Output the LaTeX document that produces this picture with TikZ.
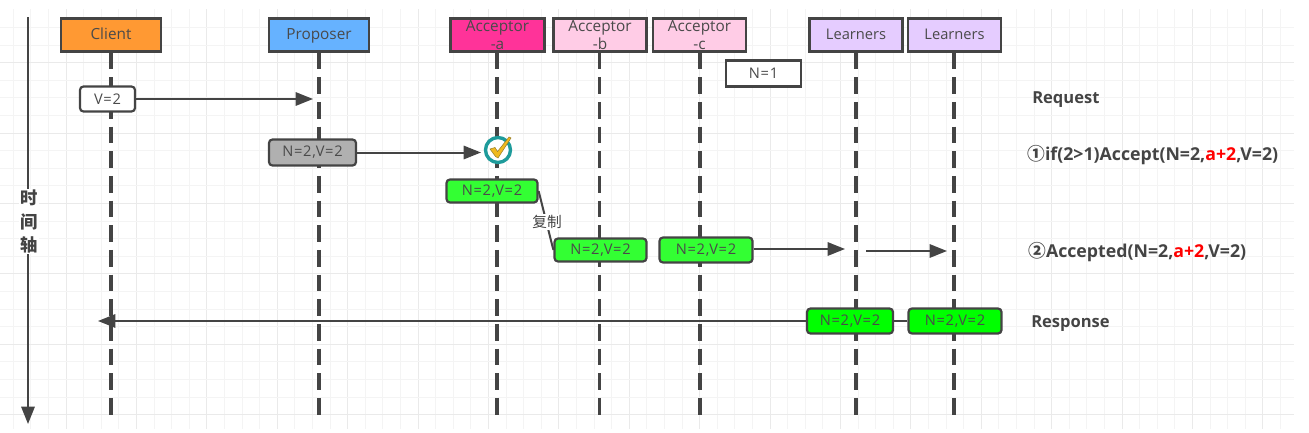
\documentclass[tikz,border=0pt]{standalone}
\usepackage{fontspec}
\setmainfont{Open Sans}
\newfontfamily\cjk{Noto Sans CJK SC}
\newfontfamily\msgfont[LetterSpace=5]{Open Sans}
\usetikzlibrary{arrows.meta}
\definecolor{ink}{HTML}{444444}
\definecolor{txt}{HTML}{4A4A4A}
\definecolor{gminor}{HTML}{F4F4F4}
\definecolor{gmajor}{HTML}{EAEAEA}
\definecolor{corange}{HTML}{FF9933}
\definecolor{cblue}{HTML}{66B2FF}
\definecolor{cmag}{HTML}{FF3399}
\definecolor{cpink}{HTML}{FFCCE6}
\definecolor{cviolet}{HTML}{E5CCFF}
\definecolor{cgray}{HTML}{B0B0B0}
\definecolor{cgreen}{HTML}{33FF33}
\definecolor{cgreenb}{HTML}{00FF00}
\definecolor{cteal}{HTML}{1E9B9B}
\definecolor{cgold}{HTML}{F0B91E}
\definecolor{cgoldd}{HTML}{967D28}
\pgfdeclarelayer{gridlayer}
\pgfdeclarelayer{linelayer}
\pgfsetlayers{gridlayer,linelayer,main}
\tikzset{
  px/.style={line width=#1*0.75pt},
  head/.style={draw=ink,px=2.2,minimum height=33*0.75pt,inner sep=0pt,align=center,text=txt,font=\fontsize{11.5}{14}\selectfont,anchor=center},
  single/.style={text height=8.6pt,text depth=2.6pt},
  msg/.style={draw=ink,px=2.2,rounded corners=2.6pt,inner sep=0pt,text=txt,font=\msgfont\fontsize{11}{12}\selectfont},
  lifeline/.style={draw=ink,px=3.6,dash pattern=on 12.5pt off 6pt},
  arrowline/.style={draw=ink,px=2,-{Triangle[length=13pt,width=10pt]}},
  plainline/.style={draw=ink,px=2},
  note/.style={anchor=base west,inner sep=0pt,text=ink,font=\fontsize{12.4}{14}\selectfont\bfseries},
  notewide/.style={note,font=\fontsize{13.3}{14}\selectfont\bfseries},
}
\newcommand{\Red}[1]{\textcolor{red}{#1}}
\begin{document}
\begin{tikzpicture}[x=0.75pt,y=-0.75pt]
\useasboundingbox (0,0) rectangle (1309,432);
\begin{pgfonlayer}{gridlayer}
  \foreach \k in {0,...,72}{
    \pgfmathsetmacro{\xx}{floor(13.3+17.6*\k)+0.5}
    \pgfmathtruncatemacro{\mm}{mod(\k+1,4)}
    \ifnum\mm=0 \draw[gmajor,px=1] (\xx,9) -- (\xx,429);
    \else \draw[gminor,px=1] (\xx,9) -- (\xx,429); \fi
  }
  \foreach \k in {0,...,22}{
    \pgfmathsetmacro{\yy}{floor(27.5+17.6*\k)+0.5}
    \pgfmathtruncatemacro{\mm}{mod(\k+2,4)}
    \ifnum\mm=0 \draw[gmajor,px=1] (0,\yy) -- (1294,\yy);
    \else \draw[gminor,px=1] (0,\yy) -- (1294,\yy); \fi
  }
\end{pgfonlayer}

% header boxes
\node[head,single,fill=corange,minimum width=100*0.75pt] (client) at (111,35) {Client};
\node[head,single,fill=cblue,minimum width=100*0.75pt] (proposer) at (319,35) {Proposer};
\node[head,fill=cmag,minimum width=94*0.75pt] (acca) at (497.5,35) {Acceptor\\[-1pt]-a};
\node[head,fill=cpink,minimum width=93*0.75pt] (accb) at (600,35) {Acceptor\\[-1pt]-b};
\node[head,fill=cpink,minimum width=93*0.75pt] (accc) at (699.5,35) {Acceptor\\[-1pt]-c};
\node[head,single,fill=cviolet,minimum width=93*0.75pt,font=\fontsize{11}{14}\selectfont] (learn1) at (856,35) {Learners};
\node[head,single,fill=cviolet,minimum width=93*0.75pt,font=\fontsize{11}{14}\selectfont] (learn2) at (954.5,35) {Learners};

% free ends of lifelines
\coordinate (endc) at (111,414.5);
\coordinate (endp) at (319,414.5);
\coordinate (enda) at (497,414.5);
\coordinate (endb) at (599.5,414.5);
\coordinate (endd) at (700,414.5);
\coordinate (endl) at (856,414.5);
\coordinate (endm) at (954,414.5);

% message boxes
\node[msg,fill=white,minimum width=55*0.75pt,minimum height=25*0.75pt] (v2) at (107.5,99) {V=2};
\node[msg,fill=cgray,minimum width=87*0.75pt,minimum height=26*0.75pt] (gray) at (312.5,152.5) {N=2,V=2};
\node[draw=ink,px=2.2,fill=white,text=txt,inner sep=0pt,font=\msgfont\fontsize{11}{12}\selectfont,minimum width=75*0.75pt,minimum height=26*0.75pt] (n1) at (763.5,73.5) {N=1};
\node[msg,fill=cgreen,minimum width=91*0.75pt,minimum height=23*0.75pt] (ga) at (492,191) {N=2,V=2};
\node[msg,fill=cgreen,minimum width=92*0.75pt,minimum height=23*0.75pt] (gb) at (600.5,250) {N=2,V=2};
\node[msg,fill=cgreen,minimum width=93*0.75pt,minimum height=25*0.75pt] (gc) at (706,250) {N=2,V=2};
\node[msg,fill=cgreenb,minimum width=86*0.75pt,minimum height=25*0.75pt] (gl1) at (850,321) {N=2,V=2};
\node[msg,fill=cgreenb,minimum width=93*0.75pt,minimum height=25*0.75pt] (gl2) at (955,321) {N=2,V=2};

% check icon
\node[circle,draw=cteal,px=3.4,fill=white,minimum size=25*0.75pt,inner sep=0pt] (chk) at (498,150) {};
\fill[cgold,draw=cgoldd,px=0.5]
  (490,149) -- (495,147.5) -- (497.5,151.5) -- (509,137) -- (511,138) -- (498,158) -- (495.5,156.5) -- cycle;

% free ends of arrows
\coordinate (pin) at (313,99);
\coordinate (ain) at (481,152.5);
\coordinate (l1in) at (845,249);
\coordinate (l1out) at (866,251);
\coordinate (l2in) at (947,251);
\coordinate (cin) at (98,321);
\coordinate (t0) at (28,17);
\coordinate (t1) at (28,424);

\begin{pgfonlayer}{linelayer}
  \draw[lifeline] (client.south) -- (endc);
  \draw[lifeline] (proposer.south) -- (endp);
  \draw[lifeline] (acca.south -| enda) -- (enda);
  \draw[lifeline] (accb.south -| endb) -- (endb);
  \draw[lifeline] (accc.south -| endd) -- (endd);
  \draw[lifeline] (learn1.south) -- (endl);
  \draw[lifeline] (learn2.south -| endm) -- (endm);
  \draw[arrowline] (v2.east) -- (pin);
  \draw[arrowline] (gray.east) -- (ain);
  \draw[arrowline] (gc.east |- l1in) -- (l1in);
  \draw[arrowline] (l1out) -- (l2in);
  \draw[arrowline] (gl2.west) -- (cin);
  \draw[arrowline,px=2.2] (t0) -- (t1);
  \draw[plainline] (ga.east) -- (gb.west);
\end{pgfonlayer}

% labels
\node[fill=white,inner sep=1pt,text=ink,font=\cjk\fontsize{11}{13}\selectfont] (copy) at (547,222) {复制};
\node[fill=white,inner xsep=1pt,inner ysep=1pt,text=ink,align=center,font=\cjk\fontsize{13}{17.6}\selectfont\bfseries] (axis) at (29,221.5) {时\\间\\轴};
\node[note] (req) at (1032,103.5) {Request};
\node[notewide] (acc) at (1027,160) {{\cjk ①}if(2>1)Accept(N=2,\Red{a+2},V=2)};
\node[notewide] (acd) at (1028,257) {{\cjk ②}Accepted(N=2,\Red{a+2},V=2)};
\node[note] (res) at (1031,327.5) {Response};
\end{tikzpicture}
\end{document}
